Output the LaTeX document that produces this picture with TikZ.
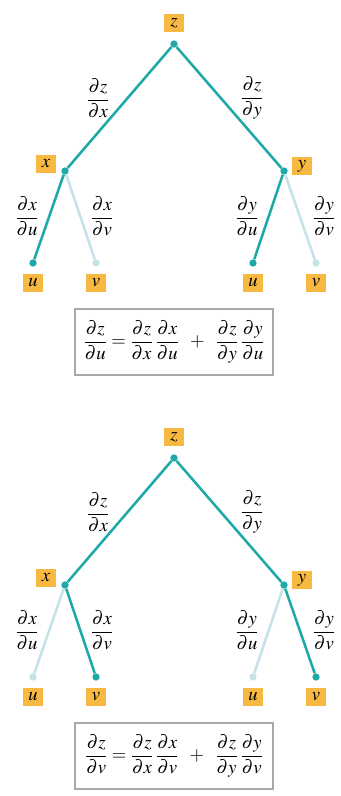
\documentclass[tikz,border=0pt]{standalone}
\usepackage{amsmath}
\usepackage{mathptmx}
\usepackage{tikz}
\usetikzlibrary{positioning,calc}
\definecolor{rama}{HTML}{1FA8A8}
\definecolor{ramaclara}{HTML}{C3E3E6}
\definecolor{caja}{HTML}{F7B942}
\definecolor{marco}{HTML}{A8A8A8}

\begin{document}
\begin{tikzpicture}[x=0.75pt, y=-0.75pt, font=\fontsize{14}{16}\selectfont,
  var/.style={fill=caja, inner sep=0pt, minimum width=14.5pt, minimum height=13pt},
  punto/.style={circle, fill=#1, inner sep=0pt, minimum size=5.5pt},
  arista/.style={line width=1.9pt, #1},
  deriv/.style={inner sep=1pt},
  formula/.style={draw=marco, line width=1.3pt, fill=white, minimum width=148pt, minimum height=49pt, inner sep=2pt}]
\useasboundingbox[fill=white] (0,0) rectangle (341,796);
\foreach \i/\oy/\cu/\cv/\w in {1/0/rama/ramaclara/u, 2/414/ramaclara/rama/v} {
  % dots of the tree
  \node[punto=rama] (zd\i) at (174,44+\oy) {};
  \node[punto=rama] (xd\i) at (65,171+\oy) {};
  \node[punto=rama] (yd\i) at (284,171+\oy) {};
  \node[punto=\cu] (xud\i) at (33,263+\oy) {};
  \node[punto=\cv] (xvd\i) at (96,263+\oy) {};
  \node[punto=\cu] (yud\i) at (253,263+\oy) {};
  \node[punto=\cv] (yvd\i) at (316,263+\oy) {};
  % variable boxes
  \node[var] (z\i) at (174,23+\oy) {$z$};
  \node[var] (x\i) at (46,164+\oy) {$x$};
  \node[var] (y\i) at (302,166+\oy) {$y$};
  \node[var] (xu\i) at (33,283+\oy) {$u$};
  \node[var] (xv\i) at (96,283+\oy) {$v$};
  \node[var] (yu\i) at (253,283+\oy) {$u$};
  \node[var] (yv\i) at (316,283+\oy) {$v$};
  % branches
  \draw[arista=rama] (zd\i) -- (xd\i);
  \draw[arista=rama] (zd\i) -- (yd\i);
  \draw[arista=\cu] (xd\i) -- (xud\i);
  \draw[arista=\cv] (xd\i) -- (xvd\i);
  \draw[arista=\cu] (yd\i) -- (yud\i);
  \draw[arista=\cv] (yd\i) -- (yvd\i);
  % partial derivatives
  \node[deriv] (dzdx\i) at (98,98+\oy) {$\dfrac{\partial z}{\partial x}$};
  \node[deriv] (dzdy\i) at (252,98+\oy) {$\dfrac{\partial z}{\partial y}$};
  \node[deriv] (dxdu\i) at (27,216+\oy) {$\dfrac{\partial x}{\partial u}$};
  \node[deriv] (dxdv\i) at (102,216+\oy) {$\dfrac{\partial x}{\partial v}$};
  \node[deriv] (dydu\i) at (247,216+\oy) {$\dfrac{\partial y}{\partial u}$};
  \node[deriv] (dydv\i) at (324,216+\oy) {$\dfrac{\partial y}{\partial v}$};
  \node[formula] (regla\i) at (174,342+\oy) {$\dfrac{\partial z}{\partial \w} = \dfrac{\partial z}{\partial x}\,\dfrac{\partial x}{\partial \w} \;\;+\;\; \dfrac{\partial z}{\partial y}\,\dfrac{\partial y}{\partial \w}$};
}
\end{tikzpicture}
\end{document}
